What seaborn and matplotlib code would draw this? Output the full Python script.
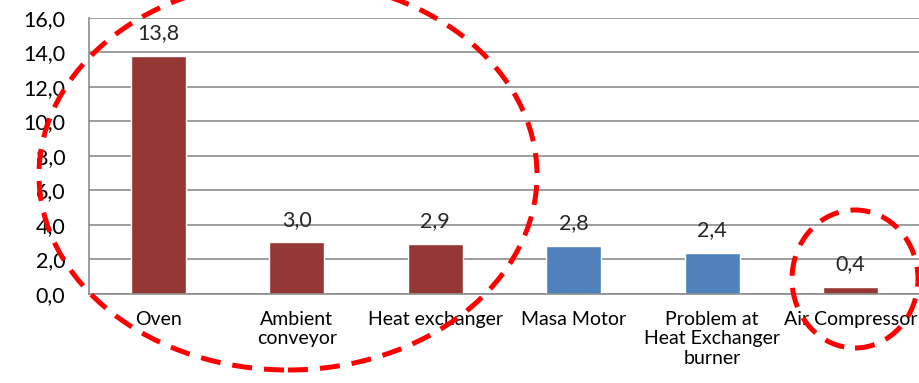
import matplotlib
matplotlib.use("Agg")
import matplotlib.pyplot as plt
from matplotlib.patches import Ellipse
from matplotlib.ticker import FixedLocator
import seaborn as sns
import pandas as pd

categories = ["Oven", "Ambient\nconveyor", "Heat exchanger", "Masa Motor",
              "Problem at\nHeat Exchanger\nburner", "Air Compressor"]
values = [13.8, 3.0, 2.9, 2.8, 2.4, 0.4]
bar_colors = ["#953735", "#953735", "#953735", "#4F81BD", "#4F81BD", "#953735"]
yticks = [0, 2, 4, 6, 8, 10, 12, 14, 16]

sns.set_style("white")
plt.rcParams["font.family"] = ["Lato", "DejaVu Sans"]

df = pd.DataFrame({"category": categories, "value": values})

fig = plt.figure(figsize=(9.2, 3.83), dpi=100)
ax = fig.add_axes([0.0967, 0.2324, 0.9033, 0.7206])

sns.barplot(data=df, x="category", y="value", hue="category",
            palette=dict(zip(categories, bar_colors)), width=0.4,
            legend=False, ax=ax, saturation=1)

ax.set_ylim(0, 16)
ax.set_xlim(-0.5, len(categories) - 0.5)
ax.set_yticks(yticks)
ax.set_yticklabels([f"{t:.1f}".replace(".", ",") for t in yticks], fontsize=15.5)
ax.yaxis.grid(True, color="#8c8c8c", linewidth=1.2)
ax.set_axisbelow(True)
ax.set_xlabel("")
ax.set_ylabel("")

ax.set_xticks(range(len(categories)))
ax.set_xticklabels(categories, fontsize=14, linespacing=1.2)
ax.tick_params(axis="x", which="major", length=0, pad=12)
ax.xaxis.set_minor_locator(FixedLocator([i - 0.5 for i in range(len(categories) + 1)]))
ax.tick_params(axis="x", which="minor", length=5, width=1.2, color="#8c8c8c", direction="out")
ax.tick_params(axis="y", which="major", length=5, width=1.2, color="#8c8c8c",
               direction="out", pad=12)
ax.tick_params(axis="both", colors="#8c8c8c", labelcolor="black")

for side in ["top", "right"]:
    ax.spines[side].set_visible(False)
for side in ["left", "bottom"]:
    ax.spines[side].set_color("#8c8c8c")
    ax.spines[side].set_linewidth(1.2)

for container in ax.containers:
    labels = [f"{b.get_height():.1f}".replace(".", ",") for b in container]
    ax.bar_label(container, labels=labels, padding=9, fontsize=15.5)

# Dashed ellipses highlighting groups of causes (figure pixel coordinates)
H = 383
dash = (0, (4, 2.4))
ell_big = Ellipse((288, H - 175), 498, 390, angle=0, fill=False,
                  edgecolor="#ff0000", linewidth=3.6, linestyle=dash,
                  transform=None, clip_on=False)
ell_small = Ellipse((855, H - 279), 126, 138, angle=0, fill=False,
                    edgecolor="#ff0000", linewidth=3.6, linestyle=dash,
                    transform=None, clip_on=False)
fig.patches.extend([ell_big, ell_small])

fig.savefig("out.png", dpi=100)
